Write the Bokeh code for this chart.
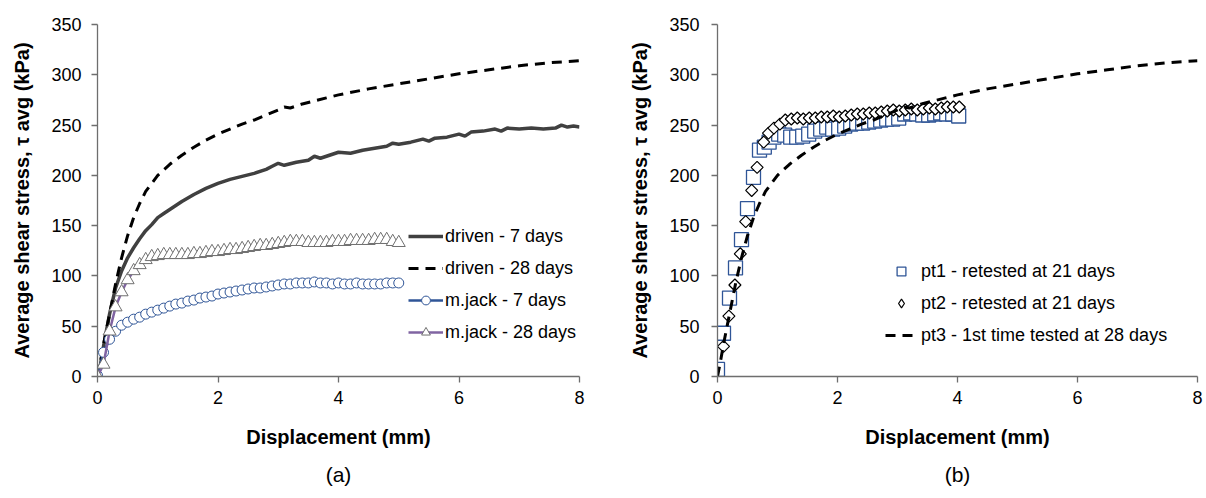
import math
from bokeh.plotting import figure
from bokeh.layouts import row
from bokeh.models import Range1d, FixedTicker, Legend, LegendItem, Title
from bokeh.embed import file_html
from bokeh.resources import INLINE

# ---------------- data: panel (a) ----------------
driven7_x = [0, 0.05, 0.1, 0.2, 0.3, 0.4, 0.5, 0.6, 0.7, 0.8, 0.9, 1.0, 1.1, 1.2, 1.4, 1.6, 1.8,
             2.0, 2.2, 2.4, 2.6, 2.8, 2.9, 3.0, 3.1, 3.3, 3.5, 3.6, 3.7, 3.8, 4.0, 4.2, 4.4, 4.6,
             4.8, 4.9, 5.0, 5.2, 5.4, 5.5, 5.6, 5.8, 6.0, 6.1, 6.2, 6.4, 6.6, 6.7, 6.8, 7.0, 7.2,
             7.4, 7.6, 7.7, 7.8, 7.9, 8.0]
driven7_y = [0, 12, 30, 62, 88, 105, 118, 128, 137, 145, 151, 158, 162, 166, 174, 181, 187,
             192, 196, 199, 202, 206, 209, 212, 210, 213, 215, 219, 217, 219, 223, 222, 225, 227,
             229, 232, 231, 233, 236, 234, 237, 238, 241, 239, 243, 244, 246, 244, 247, 246, 247,
             246, 247, 250, 248, 249, 248]

driven28_x = [0, 0.05, 0.1, 0.2, 0.3, 0.4, 0.5, 0.6, 0.7, 0.8, 1.0, 1.2, 1.4, 1.6, 1.8, 2.0, 2.2,
              2.4, 2.6, 2.8, 3.0, 3.1, 3.2, 3.4, 3.6, 3.8, 4.0, 4.5, 5.0, 5.5, 6.0, 6.5, 7.0, 7.5, 8.0]
driven28_y = [0, 15, 32, 62, 92, 118, 140, 158, 172, 184, 200, 211, 220, 228, 235, 241, 246,
              251, 255, 260, 265, 268, 267, 271, 274, 277, 280, 286, 291, 296, 301, 305, 309, 312, 314]

mjack7_x = [0.0, 0.1, 0.2, 0.3, 0.4, 0.5, 0.6, 0.7, 0.8, 0.9, 1.0, 1.1, 1.2, 1.3, 1.4, 1.5, 1.6,
            1.7, 1.8, 1.9, 2.0, 2.1, 2.2, 2.3, 2.4, 2.5, 2.6, 2.7, 2.8, 2.9, 3.0, 3.1, 3.2, 3.3,
            3.4, 3.5, 3.6, 3.7, 3.8, 3.9, 4.0, 4.1, 4.2, 4.3, 4.4, 4.5, 4.6, 4.7, 4.8, 4.9, 5.0]
mjack7_y = [1, 24, 37, 45, 51, 54, 57, 59, 62, 64, 66, 68, 70, 72, 73, 75, 76,
            78, 79, 80, 82, 83, 84, 85, 86, 87, 88, 88, 89, 90, 91, 92, 92, 93,
            93, 93, 94, 93, 93, 92, 93, 92, 92, 93, 92, 92, 92, 92, 93, 93, 93]

mjack28_x = [0.0, 0.1, 0.2, 0.3, 0.4, 0.5, 0.6, 0.7, 0.8, 0.9, 1.0, 1.1, 1.2, 1.3, 1.4, 1.5, 1.6,
             1.7, 1.8, 1.9, 2.0, 2.1, 2.2, 2.3, 2.4, 2.5, 2.6, 2.7, 2.8, 2.9, 3.0, 3.1, 3.2, 3.3,
             3.4, 3.5, 3.6, 3.7, 3.8, 3.9, 4.0, 4.1, 4.2, 4.3, 4.4, 4.5, 4.6, 4.7, 4.8, 4.9, 5.0]
mjack28_y = [0, 12, 45, 69, 84, 96, 105, 111, 116, 119, 120, 121, 121, 121, 121, 121, 122,
             122, 123, 124, 124, 125, 126, 126, 127, 128, 129, 130, 130, 131, 132, 133, 134, 134,
             134, 133, 133, 133, 133, 134, 134, 134, 135, 135, 135, 135, 136, 136, 136, 134, 133]

# ---------------- data: panel (b) ----------------
pt1_x = [0, 0.1, 0.2, 0.3, 0.4, 0.5, 0.6, 0.7, 0.78, 0.86, 0.94, 1.02, 1.12, 1.22, 1.32, 1.42,
         1.52, 1.62, 1.72, 1.82, 1.92, 2.02, 2.12, 2.22, 2.32, 2.42, 2.52, 2.62, 2.72, 2.82,
         2.92, 3.02, 3.12, 3.22, 3.32, 3.42, 3.52, 3.62, 3.72, 3.82, 3.92, 4.02]
pt1_y = [7, 43, 78, 108, 136, 167, 198, 225, 228, 233, 238, 241, 240, 238, 238, 239,
         241, 244, 246, 248, 246, 247, 249, 251, 252, 252, 253, 254, 255, 256,
         256, 257, 261, 262, 261, 260, 260, 261, 262, 261, 261, 259]

pt2_x = [0.1, 0.19, 0.29, 0.38, 0.47, 0.57, 0.66, 0.77, 0.85, 0.94, 1.04, 1.13, 1.23, 1.33,
         1.43, 1.53, 1.63, 1.73, 1.83, 1.93, 2.03, 2.13, 2.23, 2.33, 2.43, 2.53, 2.63, 2.73,
         2.83, 2.93, 3.03, 3.13, 3.23, 3.33, 3.43, 3.53, 3.63, 3.73, 3.83, 3.93, 4.03]
pt2_y = [30, 60, 91, 122, 154, 185, 208, 233, 242, 247, 251, 255, 256, 257,
         256, 257, 257, 258, 258, 259, 258, 259, 260, 261, 261, 262, 262, 263,
         264, 265, 264, 265, 266, 265, 266, 267, 266, 267, 268, 268, 268]

pt3_x = driven28_x
pt3_y = driven28_y

x_ticks = [0, 2, 4, 6, 8]
y_ticks = [0, 50, 100, 150, 200, 250, 300, 350]

y_label = "Average shear stress, \u03c4 avg (kPa)"
x_label = "Displacement (mm)"

FONT = "Liberation Sans"
AXIS_COL = "#6e6e6e"
FIG_H = 496


def make_fig(width, bl, br, tag):
    p = figure(width=width, height=FIG_H, x_range=Range1d(0, 8), y_range=Range1d(0, 350),
               output_backend="svg", toolbar_location=None,
               min_border_left=bl, min_border_right=br, min_border_top=24,
               min_border_bottom=FIG_H - 24 - 352)
    p.outline_line_color = None
    p.grid.visible = False
    for ax in (p.xaxis[0], p.yaxis[0]):
        ax.axis_line_color = AXIS_COL
        ax.axis_line_width = 1.3
        ax.major_tick_line_color = AXIS_COL
        ax.major_tick_line_width = 1.3
        ax.major_tick_out = 6
        ax.major_tick_in = 0
        ax.minor_tick_line_color = None
        ax.major_label_text_font = FONT
        ax.major_label_text_font_size = "18px"
        ax.major_label_text_color = "#000000"
        ax.axis_label_text_font = FONT
        ax.axis_label_text_font_size = "20px"
        ax.axis_label_text_font_style = "bold"
        ax.axis_label_text_color = "#000000"
    p.xaxis[0].ticker = FixedTicker(ticks=x_ticks, minor_ticks=[])
    p.yaxis[0].ticker = FixedTicker(ticks=y_ticks, minor_ticks=[])
    p.xaxis[0].major_label_standoff = 8
    p.yaxis[0].major_label_standoff = 10
    p.xaxis[0].axis_label = x_label
    p.yaxis[0].axis_label = y_label
    p.xaxis[0].axis_label_standoff = 19
    p.yaxis[0].axis_label_standoff = 15
    p.add_layout(Title(text=tag, align="center", text_font=FONT, text_font_size="21px",
                       text_font_style="normal", text_color="#000000", standoff=21), "below")
    return p


# ---------------- panel (a) ----------------
pa = make_fig(610, 97, 31, "(a)")
r_d7 = pa.line(driven7_x, driven7_y, line_color="#404040", line_width=3.5)
r_d28 = pa.line(driven28_x, driven28_y, line_color="#000000", line_width=3, line_dash="10 7")
r_m7l = pa.line(mjack7_x, mjack7_y, line_color="#2F5597", line_width=2.5)
r_m7s = pa.scatter(mjack7_x, mjack7_y, marker="circle", size=10, line_color="#2F5597",
                   line_width=1, fill_color="white")
r_m28l = pa.line(mjack28_x, mjack28_y, line_color="#8064A2", line_width=2.5)
r_m28s = pa.scatter(mjack28_x, mjack28_y, marker="triangle", size=13, line_color="#707070",
                    line_width=1, fill_color="white")

leg_a = Legend(items=[
    LegendItem(label="driven - 7 days", renderers=[r_d7]),
    LegendItem(label="driven - 28 days", renderers=[r_d28]),
    LegendItem(label="m.jack - 7 days", renderers=[r_m7l, r_m7s]),
    LegendItem(label="m.jack - 28 days", renderers=[r_m28l, r_m28s]),
], location=(311, 33), padding=0, margin=0, spacing=10, glyph_width=35, glyph_height=22,
    label_height=22, label_standoff=2, label_text_font=FONT, label_text_font_size="18px",
    label_text_color="#000000", border_line_color=None, background_fill_alpha=0)
pa.add_layout(leg_a)

# ---------------- panel (b) ----------------
pb = make_fig(594, 107, 7, "(b)")
pb.yaxis[0].major_label_standoff = 12
r_p1 = pb.scatter(pt1_x, pt1_y, marker="square", size=14, line_color="#2F5597",
                  line_width=1.3, fill_color="white")
r_p2 = pb.scatter(pt2_x, pt2_y, marker="square", angle=math.pi / 4, size=8.5,
                  line_color="#000000", line_width=1.2, fill_color="white")
# legend key only (no visible point): diamond symbol as in the reference legend
r_p2_key = pb.scatter(x=[float("nan")], y=[float("nan")], marker="diamond", size=13,
                      line_color="#000000", line_width=1.2, fill_color="white")
r_p3 = pb.line(pt3_x, pt3_y, line_color="#000000", line_width=3, line_dash="10 7")

leg_b = Legend(items=[
    LegendItem(label="pt1 - retested at 21 days", renderers=[r_p1]),
    LegendItem(label="pt2 - retested at 21 days", renderers=[r_p2_key]),
    LegendItem(label="pt3 - 1st time tested at 28 days", renderers=[r_p3]),
], location=(168, 30), padding=0, margin=0, spacing=10, glyph_width=32, glyph_height=22,
    label_height=22, label_standoff=4, label_text_font=FONT, label_text_font_size="18px",
    label_text_color="#000000", border_line_color=None, background_fill_alpha=0)
pb.add_layout(leg_b)

layout = row(pa, pb)
open("out.html", "w").write(file_html(layout, INLINE))
